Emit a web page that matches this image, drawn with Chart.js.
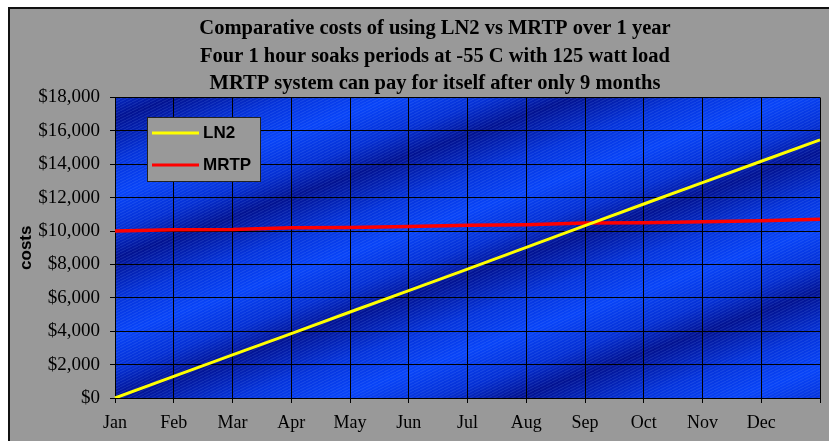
<!DOCTYPE html>
<html>
<head>
<meta charset="utf-8">
<title>Comparative costs of using LN2 vs MRTP</title>
<script src="https://cdn.jsdelivr.net/npm/chart.js@4/dist/chart.umd.min.js"></script>
<style>
  html, body { margin: 0; padding: 0; background: #fff; overflow: hidden; }
  #wrap { width: 829px; height: 441px; }
</style>
</head>
<body>
<div id="wrap"><canvas id="grafico" width="829" height="441"></canvas></div>
<script>
// datos
const meses = ['Jan', 'Feb', 'Mar', 'Apr', 'May', 'Jun', 'Jul', 'Aug', 'Sep', 'Oct', 'Nov', 'Dec', ''];
const costesLN2 = [0, 1290, 2580, 3860, 5150, 6430, 7720, 9020, 10320, 11620, 12900, 14180, 15460];
const costesMRTP = [10000, 10080, 10100, 10200, 10220, 10280, 10350, 10380, 10480, 10500, 10560, 10620, 10700];
const nombresSeries = ['LN2', 'MRTP'];
const ejeYMin = 0;
const ejeYMax = 18000;
const ejeYPaso = 2000;
const titulo = [
    'Comparative costs of using LN2 vs MRTP over 1 year',
    'Four 1 hour soaks periods at -55 C with 125 watt load',
    'MRTP system can pay for itself after only 9 months'
];

// fondo gris, marco y area azul con bandas diagonales
const fondoPlugin = {
    id: 'fondo',
    beforeDraw(chart) {
        const ctx = chart.ctx;
        const area = chart.chartArea;
        ctx.save();
        ctx.fillStyle = '#ffffff';
        ctx.fillRect(0, 0, chart.width, chart.height);
        ctx.fillStyle = '#999999';
        ctx.fillRect(8, 7, chart.width, chart.height);
        ctx.strokeStyle = '#111';
        ctx.lineWidth = 2;
        ctx.strokeRect(9, 8, chart.width + 20, chart.height + 20);

        // bandas oscuras / claras
        const nx = 0.330, ny = 0.944;
        const s1 = 120, s2 = 660;
        const grad = ctx.createLinearGradient(nx * s1, ny * s1, nx * s2, ny * s2);
        const periodo = 132;
        const paradas = [
            [0, 'rgb(2,18,145)'],
            [0.3, 'rgb(5,52,220)'],
            [0.55, 'rgb(8,68,248)'],
            [0.8, 'rgb(5,48,212)']
        ];
        let s0 = 413.8;
        while (s0 > s1 - periodo) s0 -= periodo;
        for (let s = s0; s < s2 + periodo; s += periodo) {
            paradas.forEach(p => {
                const t = (s + p[0] * periodo - s1) / (s2 - s1);
                if (t >= 0 && t <= 1) grad.addColorStop(t, p[1]);
            });
        }
        ctx.fillStyle = grad;
        ctx.fillRect(area.left, area.top, area.right - area.left, area.bottom - area.top);

        // textura fina
        const tile = document.createElement('canvas');
        tile.width = 6;
        tile.height = 3;
        const tctx = tile.getContext('2d');
        tctx.strokeStyle = 'rgba(140,170,255,0.18)';
        tctx.lineWidth = 1;
        tctx.beginPath();
        tctx.moveTo(0, 3);
        tctx.lineTo(6, 0);
        tctx.stroke();
        ctx.fillStyle = ctx.createPattern(tile, 'repeat');
        ctx.fillRect(area.left, area.top, area.right - area.left, area.bottom - area.top);
        ctx.restore();
    },
    afterLayout(chart) {
        // el titulo de Excel esta centrado algo a la derecha
        if (chart.titleBlock) {
            chart.titleBlock.left = 41;
            chart.titleBlock.right = 829;
        }
    }
};

// leyenda dentro del area, como en Excel
const leyendaPlugin = {
    id: 'leyenda',
    afterDraw(chart) {
        const ctx = chart.ctx;
        const x = 147, y = 117, w = 113, h = 64;
        ctx.save();
        ctx.fillStyle = '#999999';
        ctx.fillRect(x, y, w, h);
        ctx.strokeStyle = '#222';
        ctx.lineWidth = 1;
        ctx.strokeRect(x + 0.5, y + 0.5, w, h);
        chart.data.datasets.forEach((ds, i) => {
            const ly = 133 + i * 32;
            ctx.strokeStyle = ds.borderColor;
            ctx.lineWidth = 3;
            ctx.beginPath();
            ctx.moveTo(152, ly);
            ctx.lineTo(199, ly);
            ctx.stroke();
            ctx.fillStyle = '#000';
            ctx.font = 'bold 17px "Liberation Sans", Arial, sans-serif';
            ctx.textBaseline = 'middle';
            ctx.textAlign = 'left';
            ctx.fillText(ds.label, 203, ly);
        });
        ctx.restore();
    }
};

const ctx = document.getElementById('grafico').getContext('2d');
const myChart = new Chart(ctx, {
    type: 'line',
    data: {
        labels: meses,
        datasets: [
            {
                label: nombresSeries[0],
                data: costesLN2,
                borderColor: '#ffff00',
                backgroundColor: '#ffff00',
                borderWidth: 3,
                pointRadius: 0,
                tension: 0,
                fill: false
            },
            {
                label: nombresSeries[1],
                data: costesMRTP,
                borderColor: '#ff0000',
                backgroundColor: '#ff0000',
                borderWidth: 3.5,
                pointRadius: 0,
                tension: 0,
                fill: false
            }
        ]
    },
    plugins: [fondoPlugin, leyendaPlugin],
    options: {
        responsive: false,
        animation: false,
        devicePixelRatio: 1,
        layout: { padding: { top: 15, left: 10, right: 8, bottom: 8 } },
        plugins: {
            legend: { display: false },
            tooltip: { enabled: false },
            title: {
                display: true,
                text: titulo,
                color: '#000',
                font: { family: '"Liberation Serif", "Times New Roman", serif', size: 20.5, weight: 'bold', lineHeight: 27.5 / 20.5 },
                padding: { top: 0, bottom: 0 }
            }
        },
        scales: {
            x: {
                offset: false,
                grid: { color: '#000', lineWidth: 1, tickLength: 5, offset: false },
                border: { color: '#000', width: 1 },
                ticks: {
                    color: '#000',
                    padding: 9,
                    maxRotation: 0,
                    autoSkip: false,
                    font: { family: '"Liberation Serif", "Times New Roman", serif', size: 18 }
                },
                afterFit(scale) { scale.height = 35; }
            },
            y: {
                min: ejeYMin,
                max: ejeYMax,
                grid: { color: '#000', lineWidth: 1, tickLength: 5 },
                border: { color: '#000', width: 1 },
                ticks: {
                    stepSize: ejeYPaso,
                    color: '#000',
                    padding: 10,
                    font: { family: '"Liberation Serif", "Times New Roman", serif', size: 19 },
                    callback: (v) => '$' + v.toLocaleString('en-US')
                },
                title: {
                    display: true,
                    text: 'costs',
                    color: '#000',
                    padding: { top: 6, bottom: 0 },
                    font: { family: '"Liberation Sans", Arial, sans-serif', size: 17, weight: 'bold' }
                },
                afterFit(scale) { scale.width = 105; }
            }
        }
    }
});
</script>
</body>
</html>
